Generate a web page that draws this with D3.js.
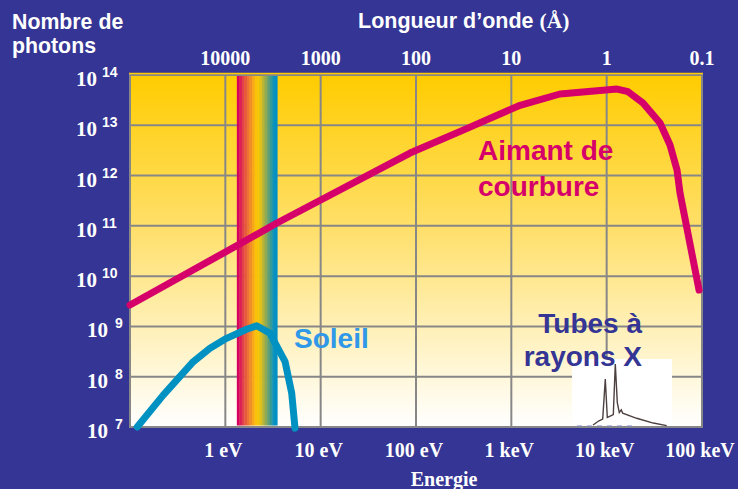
<!DOCTYPE html>
<html>
<head>
<meta charset="utf-8">
<script src="https://cdn.jsdelivr.net/npm/d3@7"></script>
<style>
  body { margin: 0; background: #343594; }
  svg { display: block; }
</style>
</head>
<body>
<div id="chart"></div>
<script>
// Axis ticks
var energyTicks = [1, 10, 100, 1000, 10000, 100000];          // eV
var energyLabels = ["1 eV", "10 eV", "100 eV", "1 keV", "10 keV", "100 keV"];
var wavelengthTicks = [10000, 1000, 100, 10, 1, 0.1];          // Angstrom
var wavelengthLabels = ["10000", "1000", "100", "10", "1", "0.1"];
var photonTicks = [1e7, 1e8, 1e9, 1e10, 1e11, 1e12, 1e13, 1e14];
var photonExponents = ["7", "8", "9", "10", "11", "12", "13", "14"];

// Aimant de courbure (bending magnet)
var magnetEnergy = [0.1, 1.43, 3.48, 86.5, 369, 1234, 3240, 12850, 16760, 24050, 36300, 46200, 54700, 58800, 93100];
var magnetPhotons = [2.67e9, 4.4e10, 1.14e11, 2.8e12, 9.2e12, 2.5e13, 4.19e13, 5.26e13, 4.65e13, 2.77e13, 1.11e13, 4.06e12, 1.29e12, 4.5e11, 5.3e9];

// Soleil
var sunEnergy = [0.119, 0.223, 0.461, 0.69, 1.03, 1.67, 2.13, 2.94, 4.23, 4.97, 5.38];
var sunPhotons = [1.0e7, 4.3e7, 1.99e8, 3.68e8, 5.8e8, 8.8e8, 1.03e9, 7.3e8, 2.0e8, 4.7e7, 9.5e6];

// Visible light band
var visibleRange = [1.32, 3.5];   // eV
var visibleColors = ["#d5005f", "#dc1f55", "#e2404a", "#e85a3e", "#ed7433", "#f18e27", "#f6a81a",
                     "#fbc00a", "#f5c60a", "#dcc01c", "#b8b536", "#8fa955", "#64a073", "#389a95", "#0f93b8", "#0090c6"];

// X-ray tube spectrum inset (relative energy 0-100, intensity 0-100)
var xrayEnergy = [21, 27, 30.7, 33.3, 35.3, 38.7, 41.3, 43.3, 45.3, 47.3, 49.3, 50.7, 64.7, 81.3, 94.7];
var xrayIntensity = [1.5, 7.8, 10.3, 70, 12.8, 15.2, 17, 92.6, 35, 20.1, 24, 19, 11.5, 4.4, 0.5];

var width = 738, height = 489;
var plot = {left: 130, right: 702, top: 75, bottom: 427};

var serif = "'Liberation Serif', 'Times New Roman', serif";
var sans = "'Liberation Sans', Arial, sans-serif";

var svg = d3.select("#chart").append("svg")
    .attr("width", width)
    .attr("height", height);

svg.append("rect")
    .attr("width", width).attr("height", height)
    .attr("fill", "#343594");

var x = d3.scaleLog().domain([0.1, 1e5]).range([plot.left, plot.right]);
var xWave = d3.scaleLog().domain([1e5, 0.1]).range([plot.left, plot.right]);
var y = d3.scaleLog().domain([1e7, 1e14]).range([plot.bottom, plot.top]);

// background gradient
var grad = svg.append("defs").append("linearGradient")
    .attr("id", "bg").attr("x1", 0).attr("y1", 0).attr("x2", 0).attr("y2", 1);
grad.append("stop").attr("offset", "0%").attr("stop-color", "#ffcc00");
grad.append("stop").attr("offset", "45%").attr("stop-color", "#ffe06e");
grad.append("stop").attr("offset", "75%").attr("stop-color", "#fff2c0");
grad.append("stop").attr("offset", "100%").attr("stop-color", "#ffffff");

svg.append("rect")
    .attr("x", plot.left).attr("y", plot.top)
    .attr("width", plot.right - plot.left).attr("height", plot.bottom - plot.top)
    .attr("fill", "url(#bg)");

// grid
var grid = svg.append("g").attr("stroke", "#878787").attr("stroke-width", 2);
grid.selectAll(".vg")
    .data(energyTicks)
    .join("line")
    .attr("x1", d => x(d)).attr("x2", d => x(d))
    .attr("y1", plot.top).attr("y2", plot.bottom);
grid.selectAll(".hg")
    .data(photonTicks)
    .join("line")
    .attr("x1", plot.left).attr("x2", plot.right)
    .attr("y1", d => y(d)).attr("y2", d => y(d));

// visible band
var stripe = d3.scaleLinear()
    .domain([0, visibleColors.length])
    .range([x(visibleRange[0]), x(visibleRange[1])]);
svg.append("g").selectAll("rect")
    .data(visibleColors)
    .join("rect")
    .attr("x", (d, i) => stripe(i))
    .attr("width", (d, i) => stripe(i + 1) - stripe(i) + 0.4)
    .attr("y", plot.top + 1)
    .attr("height", plot.bottom - plot.top - 2.5)
    .attr("fill", d => d);

// frame
svg.append("rect")
    .attr("x", plot.left).attr("y", plot.top)
    .attr("width", plot.right - plot.left).attr("height", plot.bottom - plot.top)
    .attr("fill", "none").attr("stroke", "#878787").attr("stroke-width", 2);
svg.append("line")
    .attr("x1", plot.left - 1).attr("x2", plot.right + 1)
    .attr("y1", plot.top - 1.5).attr("y2", plot.top - 1.5)
    .attr("stroke", "#ffcc00").attr("stroke-width", 1.5);

// X-ray inset
var inX = d3.scaleLinear().domain([0, 100]).range([572, 672]);
var inY = d3.scaleLinear().domain([0, 100]).range([plot.bottom - 1, 359]);
svg.append("rect")
    .attr("x", inX(0)).attr("y", inY(100))
    .attr("width", inX(100) - inX(0)).attr("height", inY(0) - inY(100))
    .attr("fill", "#ffffff");
svg.append("line")
    .attr("x1", inX(5)).attr("x2", inX(62))
    .attr("y1", inY(0)).attr("y2", inY(0))
    .attr("stroke", "#7c86c0").attr("stroke-width", 1.2)
    .attr("stroke-dasharray", "5,5");
svg.append("path")
    .datum(xrayEnergy.map((e, i) => [e, xrayIntensity[i]]))
    .attr("d", d3.line().x(d => inX(d[0])).y(d => inY(d[1])))
    .attr("fill", "none")
    .attr("stroke", "#4d4040")
    .attr("stroke-width", 1.4);

// curves
var line = d3.line().x(d => x(d[0])).y(d => y(d[1]));

svg.append("path")
    .datum(magnetEnergy.map((e, i) => [e, magnetPhotons[i]]))
    .attr("d", line)
    .attr("fill", "none")
    .attr("stroke", "#d6006b")
    .attr("stroke-width", 7)
    .attr("stroke-linecap", "round")
    .attr("stroke-linejoin", "round");

svg.append("path")
    .datum(sunEnergy.map((e, i) => [e, sunPhotons[i]]))
    .attr("d", line)
    .attr("fill", "none")
    .attr("stroke", "#0091c3")
    .attr("stroke-width", 7)
    .attr("stroke-linecap", "round")
    .attr("stroke-linejoin", "round");

// y labels
var yl = svg.append("g")
    .attr("fill", "#ffffff")
    .attr("font-family", serif)
    .attr("font-weight", "bold");
yl.selectAll(".ten")
    .data(photonTicks)
    .join("text")
    .attr("x", (d, i) => photonExponents[i].length > 1 ? 97 : 108)
    .attr("y", d => y(d) + 11)
    .attr("text-anchor", "end")
    .attr("font-size", 21)
    .text("10");
yl.selectAll(".exp")
    .data(photonTicks)
    .join("text")
    .attr("x", (d, i) => photonExponents[i].length > 1 ? 102 : 115)
    .attr("y", d => y(d) + 2)
    .attr("font-size", 14)
    .attr("font-family", sans)
    .text((d, i) => photonExponents[i]);

// bottom labels
svg.append("g").selectAll("text")
    .data(energyTicks)
    .join("text")
    .attr("x", d => x(d) - 2)
    .attr("y", 457)
    .attr("text-anchor", "middle")
    .attr("fill", "#ffffff")
    .attr("font-family", serif)
    .attr("font-weight", "bold")
    .attr("font-size", 20)
    .text((d, i) => energyLabels[i]);

// top labels
svg.append("g").selectAll("text")
    .data(wavelengthTicks)
    .join("text")
    .attr("x", d => xWave(d))
    .attr("y", 65)
    .attr("text-anchor", "middle")
    .attr("fill", "#ffffff")
    .attr("font-family", serif)
    .attr("font-weight", "bold")
    .attr("font-size", 20)
    .text((d, i) => wavelengthLabels[i]);

// axis titles
svg.append("text")
    .attr("x", 444).attr("y", 486)
    .attr("text-anchor", "middle")
    .attr("fill", "#ffffff")
    .attr("font-family", serif)
    .attr("font-weight", "bold")
    .attr("font-size", 20)
    .text("Energie");

var title = svg.append("text")
    .attr("x", 358).attr("y", 28)
    .attr("fill", "#ffffff")
    .attr("font-family", sans)
    .attr("font-weight", "bold")
    .attr("font-size", 21.5);
title.append("tspan").text("Longueur d\u2019onde ");
title.append("tspan").attr("font-family", serif).text("(\u00c5)");

var ytitle = svg.append("text")
    .attr("fill", "#ffffff")
    .attr("font-family", sans)
    .attr("font-weight", "bold")
    .attr("font-size", 21.3);
ytitle.append("tspan").attr("x", 12).attr("y", 29).text("Nombre de");
ytitle.append("tspan").attr("x", 12).attr("y", 53).text("photons");

// series labels
svg.append("text")
    .attr("x", 294).attr("y", 348)
    .attr("fill", "#3098e8")
    .attr("font-family", sans)
    .attr("font-weight", "bold")
    .attr("font-size", 28)
    .text("Soleil");

var magnetLabel = svg.append("text")
    .attr("fill", "#d6006b")
    .attr("font-family", sans)
    .attr("font-weight", "bold")
    .attr("font-size", 28);
magnetLabel.append("tspan").attr("x", 478).attr("y", 160).text("Aimant de");
magnetLabel.append("tspan").attr("x", 478).attr("y", 196).text("courbure");

var xrayLabel = svg.append("text")
    .attr("fill", "#343594")
    .attr("font-family", sans)
    .attr("font-weight", "bold")
    .attr("font-size", 28)
    .attr("text-anchor", "end");
xrayLabel.append("tspan").attr("x", 642).attr("y", 333).text("Tubes \u00e0");
xrayLabel.append("tspan").attr("x", 642).attr("y", 366).text("rayons X");
</script>
</body>
</html>
